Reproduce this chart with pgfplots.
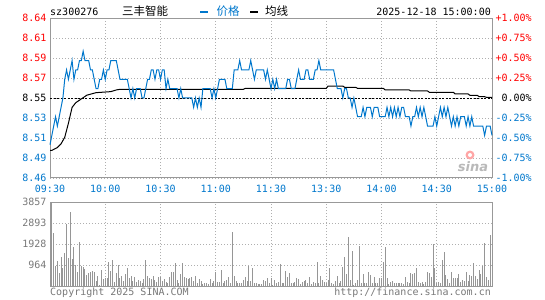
\documentclass[border=0pt]{standalone}
\usepackage{fontspec}
\setmainfont{DejaVu Sans Mono}
\newfontfamily\cjk{Noto Sans CJK SC}
\newfontfamily\sinafont{DejaVu Sans}
\usepackage{pgfplots}
\pgfplotsset{compat=1.18}
\definecolor{cblue}{RGB}{0,119,204}
\definecolor{cred}{RGB}{255,0,0}
\definecolor{cframe}{RGB}{153,153,153}
\definecolor{cgrid}{RGB}{175,175,175}
\definecolor{cvol}{RGB}{150,150,150}
\definecolor{ctext}{RGB}{120,120,120}
\newcommand{\mf}{\fontsize{10bp}{12bp}\selectfont}
\newcommand{\cf}{\cjk\fontsize{11.5bp}{12bp}\selectfont}
\begin{document}
\begin{tikzpicture}
\useasboundingbox (0,0) rectangle (545bp,-300bp);
% ---------------- main price panel ----------------
\begin{axis}[
  at={(50bp,-18bp)}, anchor=north west,
  scale only axis, width=442bp, height=160bp,
  xmin=0, xmax=240, ymin=8.4645, ymax=8.6355,
  clip=false,
  axis line style={cframe, line width=1bp},
  major tick length=0pt,
  xtick={0,30,60,90,120,150,180,210,240},
  xticklabels={09:30,10:00,10:30,11:00,11:30,13:30,14:00,14:30,15:00},
  ytick={8.4645,8.485875,8.50725,8.528625,8.55,8.571375,8.59275,8.614125,8.6355},
  yticklabels={\textcolor{cblue}{8.46},\textcolor{cblue}{8.49},\textcolor{cblue}{8.51},\textcolor{cblue}{8.53},\textcolor{black}{8.55},\textcolor{cred}{8.57},\textcolor{cred}{8.59},\textcolor{cred}{8.61},\textcolor{cred}{8.64}},
  tick label style={font=\mf},
  xticklabel style={text=cblue, yshift=-3.5bp},
  grid=major,
  major grid style={cgrid, line width=0.8bp, dash pattern=on 1bp off 2bp},
]
\addplot[black, line width=0.9bp, dash pattern=on 2bp off 1.5bp] coordinates {(0,8.55) (240,8.55)};
\addplot[black, line width=1bp] coordinates {
(0,8.494)(1,8.494)(4,8.497)(6,8.501)(8,8.508)(10,8.523)(12,8.540)(14,8.545)(17,8.549)(20,8.553)(25,8.5557)(33,8.5568)(36,8.5586)(38,8.5593)(105,8.5593)(106,8.5603)(150,8.5603)(151,8.5628)(159,8.5628)(160,8.5614)(166,8.5614)(167,8.5603)(181,8.5603)(182,8.5586)(195,8.5586)(196,8.5575)(205,8.5575)(206,8.5561)(219,8.5561)(220,8.5543)(227,8.5543)(228,8.5529)(232,8.5529)(233,8.5514)(236,8.5514)(237,8.5507)(240,8.5507)
};
\addplot[cblue, line width=1bp] coordinates {
(0,8.50)(1,8.51)(2,8.52)(3,8.53)(4,8.52)(5,8.53)(6,8.54)(7,8.55)(8,8.57)(9,8.58)
(10,8.57)(11,8.58)(12,8.59)(13,8.57)(14,8.58)(15,8.58)(16,8.59)(17,8.59)(18,8.60)(19,8.59)
(20,8.59)(21,8.59)(22,8.58)(23,8.58)(24,8.57)(25,8.56)(26,8.56)(27,8.57)(28,8.57)(29,8.58)
(30,8.57)(31,8.58)(32,8.58)(33,8.59)(34,8.59)(35,8.59)(36,8.59)(37,8.58)(38,8.57)(39,8.57)
(40,8.57)(41,8.57)(42,8.57)(43,8.56)(44,8.55)(45,8.56)(46,8.55)(47,8.56)(48,8.56)(49,8.56)
(50,8.55)(51,8.55)(52,8.56)(53,8.57)(54,8.57)(55,8.58)(56,8.58)(57,8.57)(58,8.58)(59,8.58)
(60,8.57)(61,8.58)(62,8.58)(63,8.56)(64,8.57)(65,8.56)(66,8.56)(67,8.56)(68,8.56)(69,8.56)
(70,8.55)(71,8.56)(72,8.55)(73,8.55)(74,8.55)(75,8.55)(76,8.55)(77,8.55)(78,8.54)(79,8.55)
(80,8.54)(81,8.55)(82,8.54)(83,8.56)(84,8.56)(85,8.56)(86,8.56)(87,8.56)(88,8.55)(89,8.56)
(90,8.55)(91,8.56)(92,8.57)(93,8.57)(94,8.57)(95,8.57)(96,8.56)(97,8.56)(98,8.56)(99,8.56)
(100,8.58)(101,8.58)(102,8.58)(103,8.59)(104,8.58)(105,8.58)(106,8.58)(107,8.58)(108,8.58)(109,8.59)
(110,8.58)(111,8.57)(112,8.58)(113,8.58)(114,8.58)(115,8.58)(116,8.58)(117,8.57)(118,8.58)(119,8.57)
(120,8.56)(121,8.57)(122,8.56)(123,8.57)(124,8.56)(125,8.56)(126,8.56)(127,8.56)(128,8.56)(129,8.57)
(130,8.57)(131,8.56)(132,8.56)(133,8.56)(134,8.57)(135,8.58)(136,8.57)(137,8.57)(138,8.57)(139,8.58)
(140,8.58)(141,8.57)(142,8.57)(143,8.57)(144,8.58)(145,8.58)(146,8.59)(147,8.58)(148,8.58)(149,8.58)
(150,8.58)(151,8.58)(152,8.58)(153,8.58)(154,8.58)(155,8.57)(156,8.56)(157,8.56)(158,8.56)(159,8.55)
(160,8.56)(161,8.56)(162,8.55)(163,8.55)(164,8.54)(165,8.55)(166,8.54)(167,8.53)(168,8.53)(169,8.53)
(170,8.54)(171,8.53)(172,8.54)(173,8.54)(174,8.54)(175,8.53)(176,8.54)(177,8.54)(178,8.54)(179,8.53)
(180,8.53)(181,8.53)(182,8.53)(183,8.54)(184,8.53)(185,8.54)(186,8.53)(187,8.54)(188,8.53)(189,8.54)
(190,8.53)(191,8.54)(192,8.54)(193,8.53)(194,8.53)(195,8.53)(196,8.52)(197,8.53)(198,8.53)(199,8.54)
(200,8.53)(201,8.54)(202,8.53)(203,8.54)(204,8.53)(205,8.52)(206,8.52)(207,8.52)(208,8.52)(209,8.53)
(210,8.52)(211,8.53)(212,8.54)(213,8.53)(214,8.54)(215,8.53)(216,8.54)(217,8.53)(218,8.52)(219,8.53)
(220,8.52)(221,8.53)(222,8.52)(223,8.53)(224,8.53)(225,8.53)(226,8.52)(227,8.53)(228,8.52)(229,8.53)
(230,8.52)(231,8.52)(232,8.52)(233,8.52)(234,8.52)(235,8.52)(236,8.51)(237,8.52)(238,8.52)(239,8.52)
(240,8.51)
};
% right-hand percentage labels
\begin{scope}[every node/.style={anchor=west, font=\mf, inner sep=0.333em}]
\node[text=cred] at (axis cs:240,8.6355) {+1.00\%};
\node[text=cred] at (axis cs:240,8.614125) {+0.75\%};
\node[text=cred] at (axis cs:240,8.59275) {+0.50\%};
\node[text=cred] at (axis cs:240,8.571375) {+0.25\%};
\node[text=black] at (axis cs:240,8.55) {\hphantom{-}0.00\%};
\node[text=cblue] at (axis cs:240,8.528625) {-0.25\%};
\node[text=cblue] at (axis cs:240,8.50725) {-0.50\%};
\node[text=cblue] at (axis cs:240,8.485875) {-0.75\%};
\node[text=cblue] at (axis cs:240,8.4645) {-1.00\%};
\end{scope}
\end{axis}
% ---------------- volume panel ----------------
\begin{axis}[
  at={(50bp,-202bp)}, anchor=north west,
  scale only axis, width=442bp, height=84bp,
  xmin=0, xmax=240, ymin=0, ymax=3857,
  clip=false,
  axis line style={cframe, line width=1bp},
  major tick length=0pt,
  xtick={0,30,60,90,120,150,180,210,240},
  xticklabels={},
  ytick={964,1928,2893,3857},
  yticklabels={964,1928,2893,3857},
  tick label style={font=\mf},
  yticklabel style={text=ctext},
  grid=major,
  major grid style={cgrid, line width=0.8bp, dash pattern=on 1bp off 2bp},
]
\addplot[ycomb, cvol, line width=1bp] coordinates {
(0,490)(1,3857)(2,2430)(3,900)(4,1130)(5,600)(6,1350)(7,830)(8,1510)(9,2830)
(10,1280)(11,3420)(12,1220)(13,1770)(14,980)(15,660)(16,2040)(17,900)(18,857)(19,780)
(20,520)(21,600)(22,627)(23,690)(24,627)(25,245)(26,474)(27,60)(28,750)(29,320)
(30,350)(31,367)(32,1117)(33,700)(34,1209)(35,200)(36,600)(37,980)(38,350)(39,474)
(40,214)(41,550)(42,826)(43,350)(44,474)(45,245)(46,400)(47,168)(48,290)(49,245)
(50,138)(51,320)(52,1209)(53,474)(54,350)(55,320)(56,474)(57,290)(58,168)(59,400)
(60,430)(61,245)(62,320)(63,200)(64,138)(65,400)(66,627)(67,658)(68,1056)(69,290)
(70,138)(71,550)(72,1056)(73,430)(74,350)(75,320)(76,350)(77,430)(78,245)(79,474)
(80,122)(81,320)(82,214)(83,92)(84,138)(85,138)(86,92)(87,320)(88,138)(89,214)
(90,658)(91,168)(92,200)(93,750)(94,138)(95,245)(96,290)(97,430)(98,138)(99,2463)
(100,444)(101,245)(102,122)(103,122)(104,122)(105,290)(106,430)(107,245)(108,900)(109,245)
(110,810)(111,138)(112,138)(113,92)(114,92)(115,92)(116,290)(117,245)(118,367)(119,138)
(120,367)(121,46)(122,290)(123,138)(124,200)(125,1010)(126,138)(127,138)(128,700)(129,400)
(130,600)(131,138)(132,138)(133,200)(134,367)(135,320)(136,92)(137,200)(138,245)(139,290)
(140,122)(141,400)(142,92)(143,200)(144,138)(145,1117)(146,138)(147,474)(148,290)(149,200)
(150,138)(151,290)(152,810)(153,138)(154,92)(155,245)(156,474)(157,138)(158,245)(159,857)
(160,1346)(161,535)(162,2264)(163,290)(164,1622)(165,46)(166,138)(167,290)(168,1851)(169,138)
(170,550)(171,138)(172,138)(173,658)(174,520)(175,138)(176,430)(177,138)(178,138)(179,350)
(180,350)(181,1117)(182,1805)(183,350)(184,92)(185,200)(186,245)(187,138)(188,138)(189,138)
(190,138)(191,138)(192,92)(193,430)(194,200)(195,138)(196,600)(197,550)(198,600)(199,810)
(200,200)(201,138)(202,200)(203,92)(204,200)(205,658)(206,600)(207,430)(208,1928)(209,810)
(210,138)(211,200)(212,138)(213,1209)(214,1576)(215,520)(216,320)(217,138)(218,658)(219,367)
(220,350)(221,350)(222,550)(223,200)(224,290)(225,245)(226,627)(227,245)(228,505)(229,474)
(230,1056)(231,474)(232,320)(233,750)(234,550)(235,933)(236,1974)(237,430)(238,290)(239,2356)
(240,1668)
};
\end{axis}
% ---------------- header ----------------
\node[anchor=base west, inner sep=0, font=\mf] at (50bp,-15.7bp) {sz300276};
\node[anchor=base west, inner sep=0, font=\cf] at (122bp,-15.5bp) {三丰智能};
\draw[cblue, line width=2.5bp] (200bp,-12bp) -- (208bp,-12bp);
\node[anchor=base west, inner sep=0, font=\cf, text=cblue] at (216.5bp,-15.5bp) {价格};
\draw[black, line width=2.5bp] (250bp,-12bp) -- (258bp,-12bp);
\node[anchor=base west, inner sep=0, font=\cf] at (265bp,-15.5bp) {均线};
\node[anchor=base east, inner sep=0, font=\mf] at (491bp,-15.7bp) {2025-12-18 15:00:00};
% ---------------- watermark ----------------
\fill[red!35] (470bp,-155bp) circle (4.5bp);
\fill[white] (470bp,-155bp) circle (2bp);
\node[anchor=base, inner sep=0, text=gray!55, font=\sinafont\bfseries\itshape\fontsize{13bp}{13bp}\selectfont] at (473bp,-171bp) {sina};
% ---------------- footer ----------------
\node[anchor=base west, inner sep=0, font=\mf, text=ctext] at (50bp,-295bp) {Copyright 2025 SINA.COM};
\node[anchor=base east, inner sep=0, font=\mf, text=ctext] at (491bp,-295bp) {http://finance.sina.com.cn};
\end{tikzpicture}
\end{document}
